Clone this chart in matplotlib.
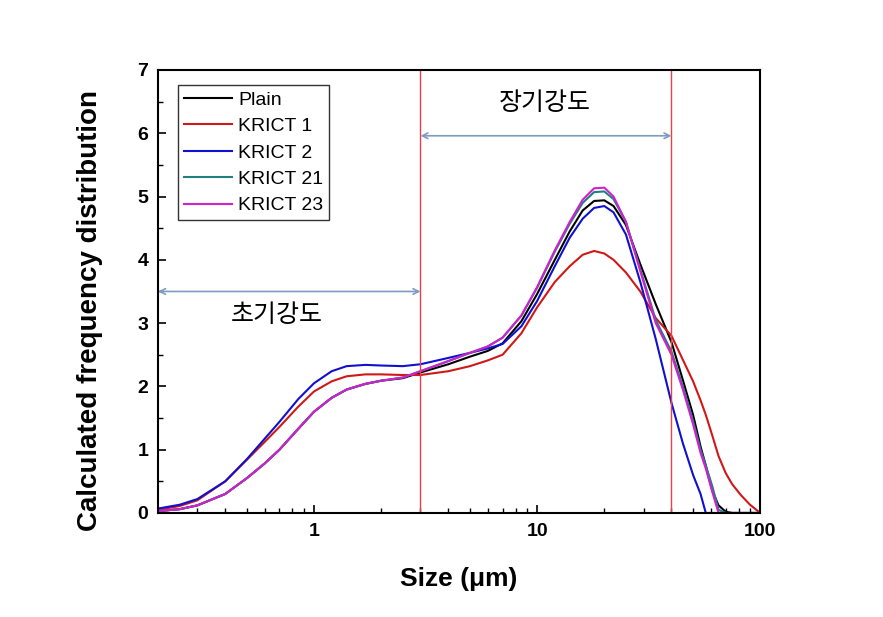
import matplotlib.pyplot as plt
from matplotlib.ticker import MultipleLocator, LogLocator, NullFormatter, FixedLocator, FixedFormatter

size_um = [0.2, 0.25, 0.3, 0.4, 0.5, 0.6, 0.7, 0.85, 1.0, 1.2, 1.4, 1.7, 2.0, 2.5, 3.0,
           4.0, 5.0, 6.0, 7.0, 8.5, 10, 12, 14, 16, 18, 20, 22, 25, 29, 34, 40, 45, 50,
           54, 57, 61, 65, 70, 75, 82, 90, 100]

plain = [0.03, 0.06, 0.12, 0.3, 0.55, 0.78, 1.0, 1.33, 1.6, 1.82, 1.95, 2.04, 2.09, 2.13, 2.22,
         2.35, 2.47, 2.56, 2.68, 3.03, 3.46, 4.0, 4.45, 4.78, 4.93, 4.94, 4.85, 4.55, 3.93, 3.3, 2.7,
         2.1, 1.55, 1.05, 0.75, 0.35, 0.12, 0.02, 0, 0, 0, 0]
krict1 = [0.05, 0.11, 0.2, 0.5, 0.84, 1.12, 1.36, 1.68, 1.92, 2.08, 2.16, 2.19, 2.19, 2.18, 2.18,
          2.24, 2.32, 2.41, 2.5, 2.84, 3.25, 3.65, 3.9, 4.08, 4.14, 4.1, 4.0, 3.8, 3.5, 3.08, 2.8,
          2.42, 2.08, 1.78, 1.55, 1.22, 0.9, 0.63, 0.45, 0.28, 0.13, 0]
krict2 = [0.07, 0.13, 0.22, 0.5, 0.85, 1.17, 1.44, 1.8, 2.05, 2.24, 2.32, 2.34, 2.33, 2.32, 2.35,
          2.45, 2.53, 2.6, 2.67, 2.95, 3.35, 3.9, 4.35, 4.65, 4.82, 4.85, 4.75, 4.4, 3.65, 2.75, 1.74,
          1.1, 0.6, 0.3, 0, 0, 0, 0, 0, 0, 0, 0]
krict21 = [0.03, 0.06, 0.12, 0.3, 0.55, 0.78, 1.0, 1.33, 1.6, 1.82, 1.95, 2.04, 2.09, 2.14, 2.24,
           2.4, 2.53, 2.63, 2.77, 3.12, 3.56, 4.13, 4.57, 4.9, 5.07, 5.08, 4.96, 4.6, 3.85, 3.05, 2.55,
           2.0, 1.45, 1.0, 0.75, 0.42, 0.05, 0, 0, 0, 0, 0]
krict23 = [0.03, 0.06, 0.12, 0.3, 0.55, 0.78, 1.0, 1.33, 1.6, 1.82, 1.95, 2.04, 2.09, 2.14, 2.24,
           2.4, 2.53, 2.63, 2.77, 3.12, 3.57, 4.15, 4.6, 4.95, 5.13, 5.14, 5.0, 4.6, 3.82, 3.0, 2.5,
           1.95, 1.4, 0.95, 0.7, 0.33, 0, 0, 0, 0, 0, 0]

series = [("Plain", plain, "black"),
          ("KRICT 1", krict1, "#d01818"),
          ("KRICT 2", krict2, "#1010d0"),
          ("KRICT 21", krict21, "#208080"),
          ("KRICT 23", krict23, "#d020d0")]

plt.rcParams['font.family'] = ['Liberation Sans', 'DejaVu Sans']

fig = plt.figure(figsize=(8.83, 6.17), dpi=100)
ax = fig.add_axes([0.179, 0.1686, 0.682, 0.718])

for name, vals, color in series:
    ax.plot(size_um, vals, color=color, lw=1.5, label=name)

ax.set_xscale('log')
ax.set_xlim(0.2, 100)
ax.set_ylim(0, 7)

# region boundaries
for xv in [3, 40]:
    ax.axvline(xv, color='#e8404a', lw=1)

arrow = dict(arrowstyle='<->', color='#7f9cc0', lw=1.2, shrinkA=0, shrinkB=0)
ax.annotate('', xy=(0.2, 3.5), xytext=(3, 3.5), arrowprops=arrow)
ax.annotate('', xy=(3, 5.96), xytext=(40, 5.96), arrowprops=arrow)
ax.text(0.68, 3.13, '초기강도', fontsize=18, ha='center', va='center',
        family=['Noto Sans CJK KR', 'DejaVu Sans'])
ax.text(10.8, 6.48, '장기강도', fontsize=18, ha='center', va='center',
        family=['Noto Sans CJK KR', 'DejaVu Sans'])

ax.yaxis.set_major_locator(MultipleLocator(1))
ax.yaxis.set_minor_locator(MultipleLocator(0.5))
ax.xaxis.set_major_locator(FixedLocator([1, 10, 100]))
ax.xaxis.set_major_formatter(FixedFormatter(['1', '10', '100']))
ax.xaxis.set_minor_locator(LogLocator(base=10, subs=range(2, 10)))
ax.xaxis.set_minor_formatter(NullFormatter())
ax.tick_params(which='both', direction='in', top=False, right=False)
ax.tick_params(which='major', length=6, width=1.2, labelsize=14, pad=7)
ax.tick_params(which='minor', length=3.5, width=1)
for lbl in ax.get_xticklabels() + ax.get_yticklabels():
    lbl.set_fontweight('bold')
for sp in ax.spines.values():
    sp.set_linewidth(1.5)

ax.set_xlabel('Size (\u03bcm)', fontsize=19, fontweight='bold', labelpad=20)
ax.set_ylabel('Calculated frequency distribution', fontsize=20, fontweight='bold',
              va='center')
ax.yaxis.set_label_coords(-0.113, 0.456)

leg = ax.legend(loc='upper left', bbox_to_anchor=(0.033, 0.965), fontsize=14, frameon=True,
                fancybox=False, edgecolor='black', handlelength=2.5, handletextpad=0.3,
                labelspacing=0.45, borderpad=0.3, borderaxespad=0)
leg.get_frame().set_linewidth(1)

fig.savefig('out.png', dpi=100)
